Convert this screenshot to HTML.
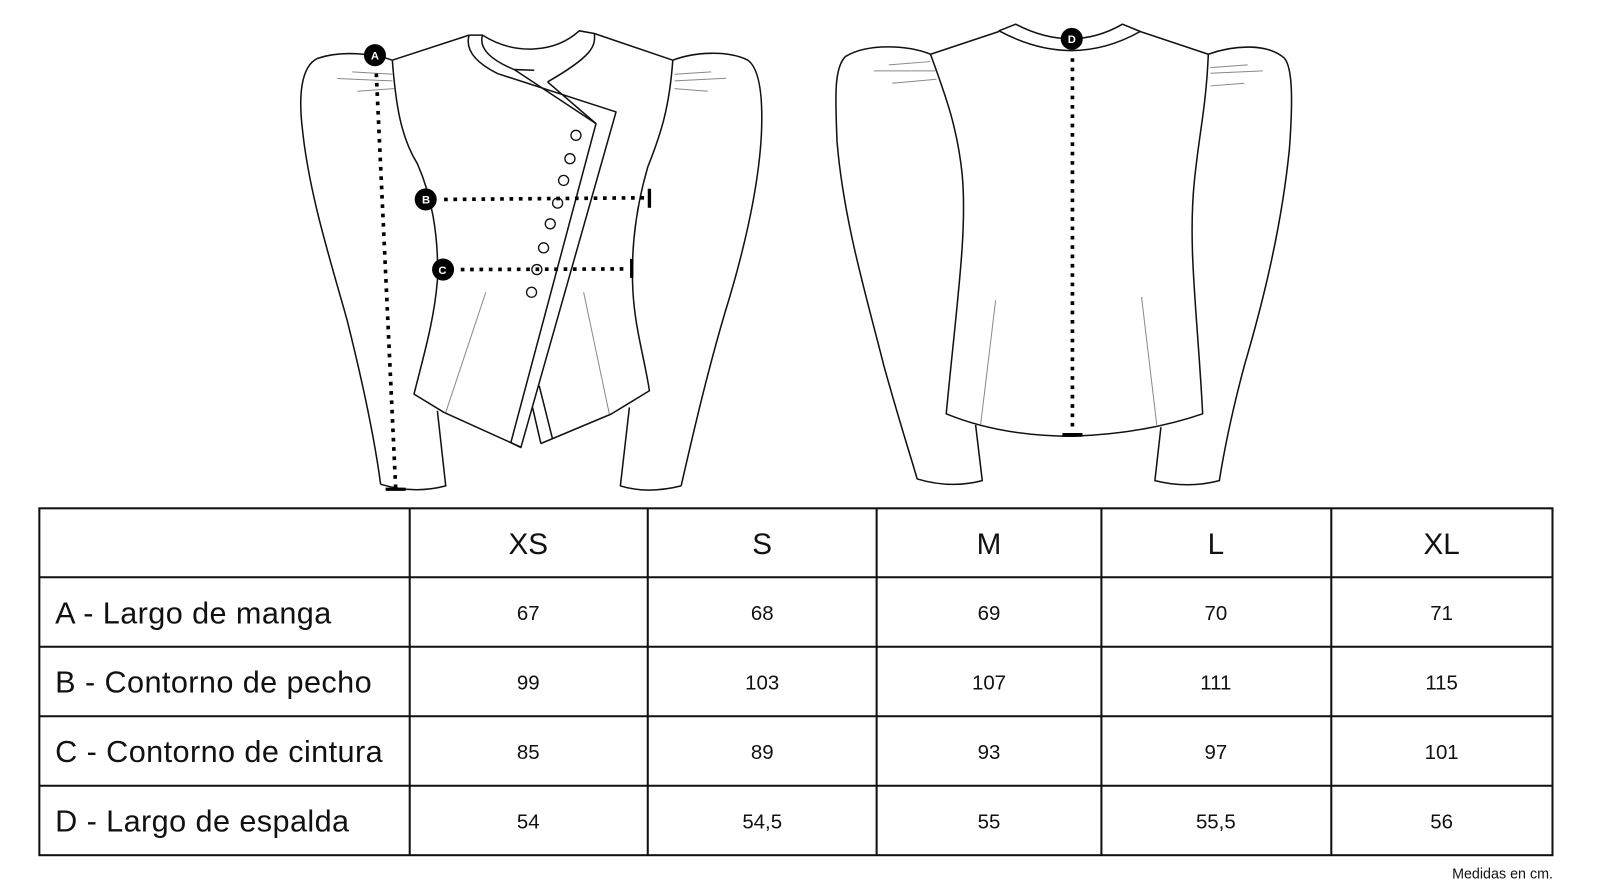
<!DOCTYPE html>
<html><head><meta charset="utf-8"><style>
html,body{margin:0;background:#fff;width:1600px;height:893px;overflow:hidden;font-family:"Liberation Sans",Arial,sans-serif}
svg{position:absolute;left:0;top:0}
</style></head><body>
<svg width="1600" height="893" viewBox="0 0 1566 874" preserveAspectRatio="none" xmlns="http://www.w3.org/2000/svg" font-family="Liberation Sans, Arial, sans-serif">
<!-- FRONT -->
<g transform="translate(274.5,19.7) scale(0.3268)" fill="none" stroke="#111" stroke-width="4.6" stroke-linejoin="round">
  <path d="M335,120 C280,100 180,90 110,115 C60,140 55,230 65,320 C85,520 150,720 200,900 C240,1060 280,1240 300,1390"/>
  <path d="M300,1390 Q400,1420 495,1395 L470,1170"/>
  <path d="M1175,120 C1240,95 1340,90 1400,120 C1440,150 1445,250 1440,350 C1430,520 1380,720 1330,880 C1280,1050 1240,1220 1200,1395"/>
  <path d="M1200,1395 Q1100,1420 1018,1395 L1045,1160"/>
  <path d="M335,120 C345,250 360,350 410,430 C450,520 475,640 470,780 C460,900 430,1000 400,1120 L490,1175 L718,1278"/>
  <path d="M335,120 L565,45"/>
  <path d="M940,40 L1175,120"/>
  <path d="M1175,120 C1165,260 1140,340 1100,440 C1065,560 1050,680 1055,800 C1060,920 1090,1010 1105,1110 L990,1180 L780,1268"/>
  <path d="M565,45 C555,80 570,120 650,160 L1005,275 L720,1280 L690,1265 L945,310 L800,185"/>
  <path d="M605,45 C595,80 620,115 700,148 L945,310"/>
  <path d="M565,45 L605,45 C700,105 820,100 895,32 L940,40 C945,80 930,110 800,185"/>
  <path d="M700,148 L760,150"/>
  <path d="M775,1095 L815,1255"/>
  <path d="M755,1160 L780,1268"/>
  <g stroke="#888" stroke-width="3">
    <path d="M215,155 L335,162"/><path d="M170,175 L335,182"/><path d="M230,213 L340,205"/>
    <path d="M1180,162 L1290,155"/><path d="M1180,182 L1335,174"/><path d="M1180,205 L1280,213"/>
    <path d="M615,815 L495,1175"/><path d="M908,815 L985,1180"/>
  </g>
  <g stroke-width="4">
    <circle cx="885" cy="345" r="15"/><circle cx="867" cy="415" r="15"/><circle cx="848" cy="480" r="15"/>
    <circle cx="830" cy="548" r="15"/><circle cx="808" cy="610" r="15"/><circle cx="788" cy="682" r="15"/>
    <circle cx="768" cy="747" r="15"/><circle cx="752" cy="815" r="15"/>
  </g>
  <g stroke="#000" stroke-width="11" stroke-dasharray="11 17" stroke-linecap="butt">
    <path d="M287,160 L345,1400"/>
    <path d="M490,537 L1095,532"/>
    <path d="M540,747 L1040,745"/>
  </g>
  <path d="M1105,505 L1105,562" stroke="#000" stroke-width="10"/>
  <path d="M1052,715 L1052,772" stroke="#000" stroke-width="10"/>
  <path d="M315,1405 L375,1405" stroke="#000" stroke-width="10"/>
  <g stroke="none" fill="#000">
    <circle cx="283" cy="105" r="33"/><circle cx="435" cy="537" r="33"/><circle cx="487" cy="747" r="33"/>
  </g>
</g>
<g font-weight="bold" font-size="11" fill="#fff" text-anchor="middle">
  <text x="367" y="58">A</text><text x="417" y="199">B</text><text x="433" y="268">C</text>
</g>
<!-- BACK -->
<g transform="translate(783.3,14.5) scale(0.3268)" fill="none" stroke="#111" stroke-width="4.6" stroke-linejoin="round">
  <path d="M595,48 L645,28 Q813,115 965,28 L1018,50 Q813,165 595,48 Z"/>
  <path d="M595,50 L390,118"/><path d="M1018,50 L1222,118"/>
  <path d="M390,118 C430,230 470,330 485,480 C500,650 470,850 437,1195 Q600,1262 815,1262 Q1030,1255 1205,1195 C1190,900 1160,700 1180,500 C1195,350 1215,280 1222,118"/>
  <path d="M390,118 C320,90 200,85 135,125 C100,160 105,250 110,380 C130,620 200,850 250,1050 C300,1230 330,1320 350,1390 Q450,1420 545,1395 L525,1228"/>
  <path d="M1222,118 C1300,90 1400,85 1450,130 C1475,160 1475,260 1465,400 C1440,650 1380,880 1330,1050 C1290,1200 1270,1300 1255,1395 Q1160,1420 1062,1395 L1080,1235"/>
  <g stroke="#888" stroke-width="3">
    <path d="M265,150 L390,140"/><path d="M220,168 L405,168"/><path d="M275,205 L408,193"/>
    <path d="M1228,158 L1340,150"/><path d="M1228,175 L1385,168"/><path d="M1228,213 L1330,205"/>
    <path d="M585,855 L540,1228"/><path d="M1022,845 L1068,1232"/>
  </g>
  <path d="M815,130 L815,1245" stroke="#000" stroke-width="11" stroke-dasharray="11 17"/>
  <path d="M785,1258 L845,1258" stroke="#000" stroke-width="11"/>
  <circle cx="813" cy="72" r="33" fill="#000" stroke="none"/>
</g>
<text x="1049" y="42" font-weight="bold" font-size="11" fill="#fff" text-anchor="middle">D</text>
<!-- TABLE -->
<g fill="none" stroke="#111" stroke-width="2">
  <rect x="38.5" y="497.5" width="1481" height="339.5"/>
  <path d="M401,497V837M634,497V837M858,497V837M1078,497V837M1303,497V837"/>
  <path d="M38,565H1520M38,633H1520M38,701H1520M38,769H1520"/>
</g>
<g font-size="29" fill="#111" text-anchor="middle">
  <text x="517" y="542">XS</text><text x="746" y="542">S</text><text x="968" y="542">M</text><text x="1190" y="542">L</text><text x="1411" y="542">XL</text>
</g>
<g font-size="30" fill="#111" letter-spacing="0.4">
  <text x="54" y="610">A - Largo de manga</text>
  <text x="54" y="678">B - Contorno de pecho</text>
  <text x="54" y="746">C - Contorno de cintura</text>
  <text x="54" y="814">D - Largo de espalda</text>
</g>
<g font-size="20" fill="#111" text-anchor="middle">
  <text x="517" y="607">67</text><text x="746" y="607">68</text><text x="968" y="607">69</text><text x="1190" y="607">70</text><text x="1411" y="607">71</text>
  <text x="517" y="675">99</text><text x="746" y="675">103</text><text x="968" y="675">107</text><text x="1190" y="675">111</text><text x="1411" y="675">115</text>
  <text x="517" y="743">85</text><text x="746" y="743">89</text><text x="968" y="743">93</text><text x="1190" y="743">97</text><text x="1411" y="743">101</text>
  <text x="517" y="811">54</text><text x="746" y="811">54,5</text><text x="968" y="811">55</text><text x="1190" y="811">55,5</text><text x="1411" y="811">56</text>
</g>
<text x="1520" y="860" font-size="14" fill="#111" text-anchor="end">Medidas en cm.</text>
</svg>
</body></html>
